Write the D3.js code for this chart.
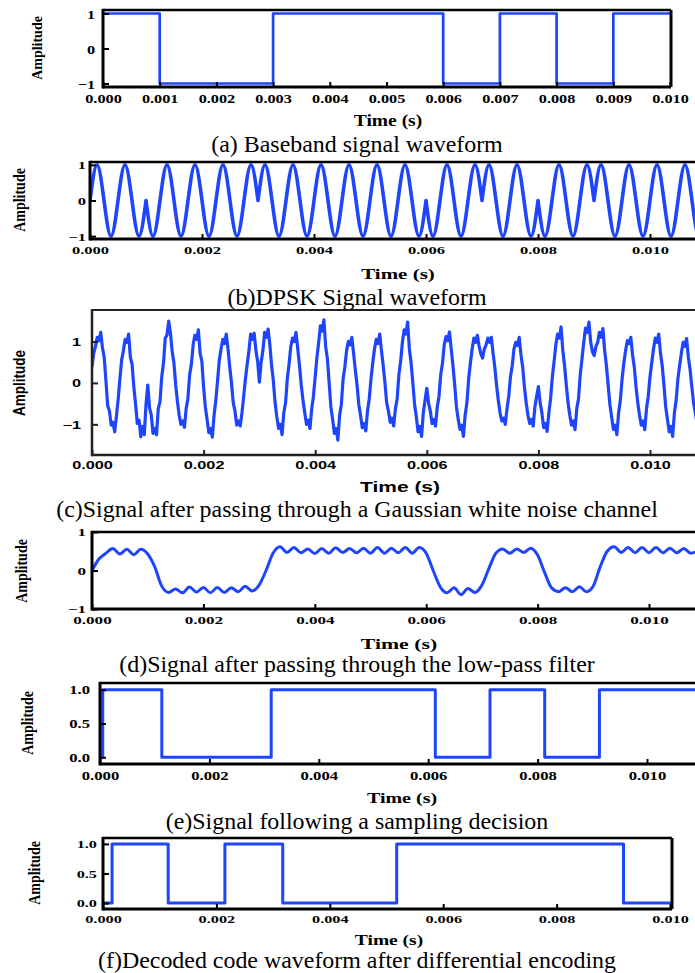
<!DOCTYPE html>
<html>
<head>
<meta charset="utf-8">
<script src="https://cdn.jsdelivr.net/npm/d3@7"></script>
<style>
	body { margin: 0; background: #fff; }
	svg { display: block; }
</style>
</head>
<body>
<div id="chart"></div>
<script>

// (a) baseband: level changes (time in s)
var baseTimes = [0, 0.001, 0.003, 0.006, 0.007, 0.008, 0.009, 0.010]
var baseLevels = [1, -1, 1, -1, 1, -1, 1, 1]

// (b) DPSK waveform, one value every 0.125 ms (8 per bit)
var dpskStep = 0.000125
var samplesPerBit = 8
var dpskValues = [
	0, 1, 0, -1, 0, 1, 0, -1,
	0, -1, 0, 1, 0, -1, 0, 1,
	0, -1, 0, 1, 0, -1, 0, 1,
	0, 1, 0, -1, 0, 1, 0, -1,
	0, 1, 0, -1, 0, 1, 0, -1,
	0, 1, 0, -1, 0, 1, 0, -1,
	0, -1, 0, 1, 0, -1, 0, 1,
	0, 1, 0, -1, 0, 1, 0, -1,
	0, -1, 0, 1, 0, -1, 0, 1,
	0, 1, 0, -1, 0, 1, 0, -1,
	0, 1, 0, -1, 0, 1, 0, -1,
	0
]

// (c) noisy channel output, one value every 1/32 ms (8 per half cycle)
var noisyStep = 0.00003125
var noisyValues = [
	0.40, 0.72, 0.88, 1.10, 1.02, 1.22, 0.85, 0.62,
	0.05, -0.55, -0.68, -1.02, -0.95, -1.18, -0.80, -0.40,
	0.10, 0.55, 0.78, 1.05, 0.98, 1.18, 0.62, 0.45,
	-0.10, -0.52, -0.98, -0.90, -1.30, -1.05, -1.25, -0.50,
	-0.05, -0.60, -0.78, -1.22, -1.10, -1.25, -0.62, -0.45,
	0.15, 0.48, 1.08, 1.15, 1.49, 1.20, 0.75, 0.48,
	-0.05, -0.45, -0.78, -1.00, -0.92, -1.07, -0.62, -0.38,
	0.20, 0.45, 0.92, 1.15, 1.05, 1.28, 0.72, 0.52,
	-0.10, -0.58, -0.88, -1.20, -1.10, -1.31, -0.78, -0.42,
	0.05, 0.55, 0.82, 1.05, 0.95, 1.18, 0.82, 0.38,
	0.00, -0.48, -0.68, -1.02, -0.92, -1.04, -0.72, -0.32,
	0.10, 0.45, 0.78, 1.18, 1.05, 1.20, 0.78, 0.52,
	0.02, 0.50, 0.78, 1.22, 1.10, 1.30, 0.92, 0.42,
	0.05, -0.48, -0.82, -1.10, -1.00, -1.25, -0.72, -0.48,
	0.10, 0.45, 0.88, 1.08, 1.00, 1.22, 0.82, 0.42,
	-0.05, -0.42, -0.72, -1.00, -0.90, -1.10, -0.62, -0.32,
	0.15, 0.62, 0.98, 1.38, 1.25, 1.52, 0.88, 0.58,
	0.00, -0.58, -0.88, -1.22, -1.10, -1.38, -0.78, -0.52,
	0.10, 0.38, 0.78, 1.00, 0.92, 1.10, 0.72, 0.32,
	-0.05, -0.52, -0.78, -1.08, -0.98, -1.16, -0.68, -0.38,
	0.10, 0.48, 0.82, 1.05, 0.95, 1.18, 0.78, 0.42,
	0.00, -0.48, -0.68, -0.95, -0.85, -1.04, -0.62, -0.38,
	0.20, 0.52, 0.98, 1.28, 1.18, 1.47, 0.82, 0.48,
	0.00, -0.52, -0.82, -1.18, -1.05, -1.29, -0.72, -0.42,
	-0.13, -0.48, -0.68, -0.98, -0.88, -1.04, -0.58, -0.32,
	0.20, 0.48, 0.92, 1.12, 1.02, 1.23, 0.82, 0.42,
	-0.05, -0.58, -0.88, -1.12, -1.02, -1.29, -0.78, -0.48,
	0.10, 0.48, 0.82, 1.08, 0.98, 1.15, 0.88, 0.70,
	0.60, 0.82, 0.92, 1.08, 0.98, 1.10, 0.72, 0.38,
	-0.05, -0.42, -0.72, -0.92, -0.85, -1.00, -0.62, -0.32,
	0.15, 0.42, 0.82, 0.98, 0.90, 1.10, 0.68, 0.38,
	-0.10, -0.48, -0.78, -0.98, -0.88, -1.04, -0.58, -0.32,
	-0.09, -0.48, -0.72, -1.08, -0.98, -1.17, -0.72, -0.38,
	0.15, 0.52, 0.92, 1.18, 1.08, 1.35, 0.78, 0.42,
	-0.05, -0.48, -0.78, -1.02, -0.92, -1.13, -0.62, -0.38,
	0.20, 0.58, 0.98, 1.32, 1.22, 1.47, 0.98, 0.75,
	0.66, 0.88, 0.98, 1.22, 1.10, 1.31, 0.78, 0.42,
	-0.05, -0.52, -0.82, -1.12, -1.02, -1.25, -0.72, -0.42,
	0.10, 0.48, 0.78, 1.02, 0.95, 1.10, 0.68, 0.38,
	-0.10, -0.48, -0.78, -1.02, -0.92, -1.13, -0.62, -0.32,
	0.15, 0.48, 0.82, 1.08, 0.98, 1.18, 0.72, 0.42,
	-0.05, -0.58, -0.88, -1.18, -1.05, -1.29, -0.72, -0.42,
	0.10, 0.42, 0.72, 0.98, 0.88, 1.07, 0.62, 0.32,
	-0.10, -0.48, -0.72, -0.98, -0.90, -1.10
]

// (d) low-pass filter output, one value every 0.125 ms
var lpfStep = 0.000125
var lpfValues = [
	0, 0.3, 0.45, 0.57, 0.43, 0.55, 0.41, 0.55, 0.43, 0.1,
	-0.4, -0.57, -0.48, -0.58, -0.43, -0.56, -0.44, -0.58, -0.44, -0.57,
	-0.45, -0.55, -0.41, -0.53, -0.38, 0.0, 0.45, 0.62, 0.47, 0.6,
	0.46, 0.56, 0.44, 0.57, 0.45, 0.59, 0.47, 0.57, 0.46, 0.58,
	0.45, 0.6, 0.45, 0.58, 0.46, 0.6, 0.45, 0.6, 0.45, 0.0,
	-0.42, -0.58, -0.45, -0.63, -0.47, -0.57, -0.38, 0.05, 0.45, 0.56,
	0.45, 0.56, 0.47, 0.58, 0.4, -0.05, -0.45, -0.55, -0.45, -0.55,
	-0.42, -0.55, -0.4, 0.1, 0.5, 0.62, 0.47, 0.6, 0.46, 0.6,
	0.46, 0.6, 0.46, 0.58, 0.46, 0.57, 0.45, 0.5
]

// (e) sampling decision output
var decisionTimes = [0, 0.00005, 0.00113, 0.00313, 0.00613, 0.00713, 0.00813, 0.00913, 0.011]
var decisionLevels = [0, 1, 0, 1, 0, 1, 0, 1, 1]

// (f) decoded code
var decodedTimes = [0, 0.00016, 0.00115, 0.00215, 0.00317, 0.00518, 0.00918, 0.010]
var decodedLevels = [0, 1, 0, 1, 0, 1, 0, 0]

// tick values
var xTicksFine = [0, 0.001, 0.002, 0.003, 0.004, 0.005, 0.006, 0.007, 0.008, 0.009, 0.010]
var xTicksCoarse = [0, 0.002, 0.004, 0.006, 0.008, 0.010]
var yTicksSym = [-1, 0, 1]
var yTicksUnit = [0, 0.5, 1]

var captions = [
	"(a) Baseband signal waveform",
	"(b)DPSK Signal waveform",
	"(c)Signal after passing through a Gaussian white noise channel",
	"(d)Signal after passing through the low-pass filter",
	"(e)Signal following a sampling decision",
	"(f)Decoded code waveform after differential encoding"
]

var blue = "#1f45fc"
var serif = "'Liberation Serif', 'Times New Roman', serif"
var sans = "'Liberation Sans', Arial, sans-serif"

var svg = d3.select("#chart").append("svg")
	.attr("width", 695)
	.attr("height", 973)

function symFmt(d) { return d < 0 ? "\u2212" + Math.abs(d) : String(d) }

function stepPath(times, levels) {
	return function (x, y) {
		var pts = times.map(function (t, i) { return [t, levels[i]] })
		return d3.line().x(function (d) { return x(d[0]) }).y(function (d) { return y(d[1]) })
			.curve(d3.curveStepAfter)(pts)
	}
}

function dpskPath(x, y) {
	var pts = dpskValues.map(function (v, i) { return [i * dpskStep, v] })
	var bitLine = d3.line().x(function (d) { return x(d[0]) }).y(function (d) { return y(d[1]) })
		.curve(d3.curveNatural)
	var str = ""
	for (var s = 0; s + 1 < pts.length; s += samplesPerBit) {
		str += bitLine(pts.slice(s, s + samplesPerBit + 1))
	}
	return str
}

function noisyPath(x, y) {
	var pts = noisyValues.map(function (v, i) { return [i * noisyStep, v] })
	return d3.line().x(function (d) { return x(d[0]) }).y(function (d) { return y(d[1]) })(pts)
}

function lpfPath(x, y) {
	var pts = lpfValues.map(function (v, i) { return [i * lpfStep, v] })
	return d3.line().x(function (d) { return x(d[0]) }).y(function (d) { return y(d[1]) })
		.curve(d3.curveMonotoneX)(pts)
}

var panels = [
	{ id: "a", x0: 103, x10: 670, right: 671, top: 10, bottom: 87, yDom: [-1.1, 1.1],
		xTicks: xTicksFine, yTicks: yTicksSym, yFmt: symFmt, font: serif,
		tickFont: 13, tickSx: 1.25, yGap: 8, xBase: 16, lineW: 2.7,
		amp: [37, 48, 14, 1.05], time: [388, 126, 16, 1.22], capY: 152,
		path: stepPath(baseTimes, baseLevels) },
	{ id: "b", x0: 90, x10: 650, right: 700, top: 162, bottom: 239, yDom: [-1.08, 1.08],
		xTicks: xTicksCoarse, yTicks: yTicksSym, yFmt: symFmt, font: serif,
		tickFont: 11, tickSx: 1.5, yGap: 4, xBase: 15, lineW: 3.6,
		amp: [19, 200, 14, 1.2], time: [398, 279, 15, 1.4], capY: 305,
		path: dpskPath },
	{ id: "c", x0: 92, x10: 650, right: 700, top: 310, bottom: 455, yDom: [-1.74, 1.76],
		xTicks: xTicksCoarse, yTicks: yTicksSym, yFmt: symFmt, font: sans,
		tickFont: 10.5, tickSx: 1.55, yGap: 11, xBase: 14, lineW: 3.2,
		amp: [19, 383, 13.5, 1.2], time: [400, 492, 14, 1.5], capY: 517,
		path: noisyPath, frameColor: "#222", frameW: [2.5, 1.8] },
	{ id: "d", x0: 92, x10: 649, right: 700, top: 532, bottom: 609, yDom: [-1, 1],
		xTicks: xTicksCoarse, yTicks: yTicksSym, yFmt: symFmt, font: serif,
		tickFont: 11, tickSx: 1.55, yGap: 6, xBase: 15, lineW: 3,
		amp: [21, 571, 14, 1.2], time: [399, 649, 14.5, 1.5], capY: 672,
		path: lpfPath },
	{ id: "e", x0: 100, x10: 647, right: 700, top: 683, bottom: 764, yDom: [-0.1, 1.1],
		xTicks: xTicksCoarse, yTicks: yTicksUnit, yFmt: d3.format(".1f"), font: serif,
		tickFont: 11.5, tickSx: 1.45, yGap: 10, xBase: 16, lineW: 3,
		amp: [27, 723, 14, 1.15], time: [402, 803, 14.5, 1.38], capY: 829,
		path: stepPath(decisionTimes, decisionLevels) },
	{ id: "f", x0: 103, x10: 670, right: 672, top: 838, bottom: 909, yDom: [-0.1, 1.1],
		xTicks: xTicksCoarse, yTicks: yTicksUnit, yFmt: d3.format(".1f"), font: serif,
		tickFont: 10.5, tickSx: 1.55, yGap: 6, xBase: 14, lineW: 3,
		amp: [34, 873, 14, 1.15], time: [389, 945, 15, 1.3], capY: 968,
		path: stepPath(decodedTimes, decodedLevels) }
]

function drawPanel(p, i) {
	var x = d3.scaleLinear().domain([0, 0.010]).range([p.x0, p.x10])
	var y = d3.scaleLinear().domain(p.yDom).range([p.bottom, p.top])
	var g = svg.append("g").attr("class", "panel-" + p.id)
	var frameColor = p.frameColor || "#000"
	var fw = p.frameW || [3, 2.3]

	svg.append("clipPath").attr("id", "clip-" + p.id)
		.append("rect")
		.attr("x", p.x0).attr("y", p.top)
		.attr("width", p.right - p.x0).attr("height", p.bottom - p.top)

	g.append("path")
		.attr("clip-path", "url(#clip-" + p.id + ")")
		.attr("d", p.path(x, y))
		.attr("fill", "none")
		.attr("stroke", blue)
		.attr("stroke-width", p.lineW)
		.attr("stroke-linejoin", "round")
		.attr("stroke-linecap", "round")

	// frame
	g.append("line").attr("x1", p.x0).attr("x2", p.right).attr("y1", p.top).attr("y2", p.top)
		.attr("stroke", frameColor).attr("stroke-width", fw[1])
	if (p.right < 695) {
		g.append("line").attr("x1", p.right).attr("x2", p.right).attr("y1", p.top).attr("y2", p.bottom)
			.attr("stroke", frameColor).attr("stroke-width", fw[0])
	}
	g.append("line").attr("x1", p.x0).attr("x2", p.right).attr("y1", p.bottom).attr("y2", p.bottom)
		.attr("stroke", frameColor).attr("stroke-width", fw[0])
	g.append("line").attr("x1", p.x0).attr("x2", p.x0).attr("y1", p.top - fw[1] / 2).attr("y2", p.bottom + fw[0] / 2)
		.attr("stroke", frameColor).attr("stroke-width", fw[0])

	var weight = "bold"

	// x axis
	var gx = g.append("g")
		.attr("transform", "translate(0," + p.bottom + ")")
		.call(d3.axisBottom(x).tickValues(p.xTicks).tickFormat(d3.format(".3f"))
			.tickSizeInner(-5).tickSizeOuter(0))
	gx.select(".domain").remove()
	gx.selectAll(".tick line").attr("stroke", frameColor).attr("stroke-width", 2)
	gx.selectAll(".tick text")
		.attr("y", p.xBase).attr("dy", null)
		.attr("transform", "scale(" + p.tickSx + ",1)")
		.attr("fill", "#000")
		.style("font-family", p.font).style("font-size", p.tickFont + "px").style("font-weight", weight)

	// y axis
	var gy = g.append("g")
		.attr("transform", "translate(" + p.x0 + ",0)")
		.call(d3.axisLeft(y).tickValues(p.yTicks).tickFormat(p.yFmt)
			.tickSizeInner(-6).tickSizeOuter(0))
	gy.select(".domain").remove()
	gy.selectAll(".tick line").attr("stroke", frameColor).attr("stroke-width", 2)
	gy.selectAll(".tick text")
		.attr("x", -p.yGap / p.tickSx).attr("dy", "0.36em")
		.attr("transform", "scale(" + p.tickSx + ",1)")
		.attr("fill", "#000")
		.style("font-family", p.font).style("font-size", p.tickFont + "px").style("font-weight", weight)

	// axis titles
	g.append("text")
		.attr("transform", "translate(" + p.amp[0] + "," + p.amp[1] + ") scale(" + p.amp[3] + ",1) rotate(-90)")
		.attr("text-anchor", "middle").attr("dy", "0.35em")
		.style("font-family", p.font).style("font-size", p.amp[2] + "px").style("font-weight", weight)
		.text("Amplitude")

	g.append("text")
		.attr("transform", "translate(" + p.time[0] + "," + p.time[1] + ") scale(" + p.time[3] + ",1)")
		.attr("text-anchor", "middle")
		.style("font-family", p.font).style("font-size", p.time[2] + "px").style("font-weight", weight)
		.text("Time (s)")

	// caption
	svg.append("text")
		.attr("transform", "translate(357," + p.capY + ") scale(1.04,1)")
		.attr("text-anchor", "middle")
		.style("font-family", serif).style("font-size", "23px")
		.text(captions[i])
}

panels.forEach(drawPanel)

</script>
</body>
</html>
